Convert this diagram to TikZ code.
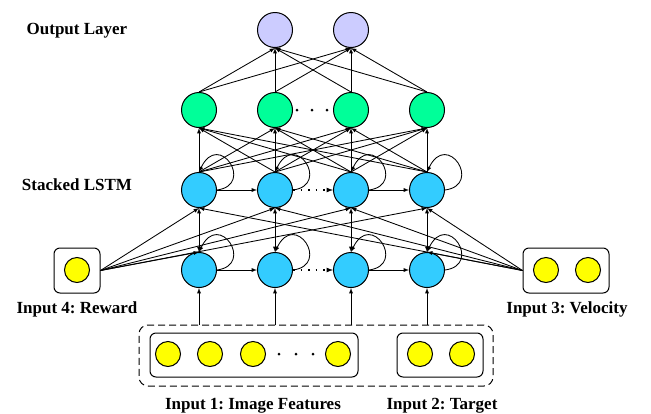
\documentclass[tikz,border=0pt]{standalone}
\usepackage{fontspec}
\setmainfont{Liberation Serif}
\usepackage{tikz}
\definecolor{outcol}{HTML}{CCCCFF}
\definecolor{densecol}{HTML}{00FF99}
\definecolor{lstmcol}{HTML}{33CCFF}
\definecolor{incol}{HTML}{FFFF00}
\frenchspacing

\begin{document}
\begin{tikzpicture}[x=1pt,y=-1pt,line width=0.85pt,
  neuron/.style={circle, draw, line width=1pt, minimum size=35pt, inner sep=0pt},
  inneuron/.style={circle, draw, line width=1pt, fill=incol, minimum size=25pt, inner sep=0pt},
  inbox/.style={draw, rounded corners=6pt, line width=1pt, inner sep=0pt},
  lbl/.style={font=\fontsize{17}{20}\selectfont\bfseries},
  dot/.style={circle, fill, inner sep=0pt, minimum size=3pt},
  skip/.style={-latex, dash pattern=on 1.5pt off 6pt, line width=1.2pt}]

\useasboundingbox (0,0) rectangle (651,413);

% Output layer
\node [neuron, fill=outcol] (out1) at (275,30) {};
\node [neuron, fill=outcol] (out2) at (351,30) {};
\node [lbl] at (77,31) {Output Layer};

% Dense layer
\node [neuron, fill=densecol] (g1) at (199,110) {};
\node [neuron, fill=densecol] (g2) at (275,110) {};
\node [neuron, fill=densecol] (g3) at (351,110) {};
\node [neuron, fill=densecol] (g4) at (427,110) {};
\node [dot] (gd1) at (297,110) {};
\node [dot] (gd2) at (312,110) {};
\node [dot] (gd3) at (327,110) {};

% Stacked LSTM
\node [neuron, fill=lstmcol] (b1) at (199,190) {};
\node [neuron, fill=lstmcol] (b2) at (275,190) {};
\node [neuron, fill=lstmcol] (b3) at (351,190) {};
\node [neuron, fill=lstmcol] (b4) at (427,190) {};
\node [neuron, fill=lstmcol] (a1) at (199,270) {};
\node [neuron, fill=lstmcol] (a2) at (275,270) {};
\node [neuron, fill=lstmcol] (a3) at (351,270) {};
\node [neuron, fill=lstmcol] (a4) at (427,270) {};
\node [lbl] at (77,185) {Stacked LSTM};

% Input 4
\node [inbox, minimum width=46pt, minimum height=45pt] (rbox) at (77,270.5) {};
\node [inneuron] (r1) at (77,270) {};
\node [lbl] at (77,309) {Input 4: Reward};

% Input 3
\node [inbox, minimum width=86pt, minimum height=45pt] (vbox) at (566,270.5) {};
\node [inneuron] (v1) at (546,270) {};
\node [inneuron] (v2) at (588,270) {};
\node [lbl] at (567,309) {Input 3: Velocity};

% Input 1 and 2
\node [draw, dash pattern=on 7pt off 4pt, rounded corners=9pt, line width=1pt,
  minimum width=354pt, minimum height=61pt] (inall) at (316,355.5) {};
\node [inbox, minimum width=208pt, minimum height=44pt] (ibox) at (254,355) {};
\node [inneuron] (i1) at (168,354) {};
\node [inneuron] (i2) at (210,354) {};
\node [inneuron] (i3) at (253,354) {};
\node [inneuron] (i4) at (338,354) {};
\node [dot] (id1) at (279,354) {};
\node [dot] (id2) at (296,354) {};
\node [dot] (id3) at (313,354) {};
\node [inbox, minimum width=86pt, minimum height=44pt] (tbox) at (440,355) {};
\node [inneuron] (t1) at (420,354) {};
\node [inneuron] (t2) at (462,354) {};
\node [lbl] at (253,406) {Input 1: Image Features};
\node [lbl] at (442,406) {Input 2: Target};

% Connections
\draw [-latex] (rbox.east) -- (a1.north);
\draw [-latex] (vbox.west) -- (a4.north);
\foreach \i in {1,...,4} {
  \draw [-latex] (inall.north -| a\i) -- (a\i.south);
  \draw [latex-latex] (a\i.north) -- (b\i.south);
  \draw [-latex] (rbox.east) -- (b\i.south);
  \draw [-latex] (vbox.west) -- (b\i.south);
  \draw [-latex] (a\i.east) .. controls +(38,-5) and +(20,-42) .. (a\i.north);
  \draw [-latex] (b\i.east) .. controls +(38,-5) and +(20,-42) .. (b\i.north);
  \foreach \j in {1,...,4}
    \draw [-latex] (b\i.north) -- (g\j.south);
  \draw [-latex] (g\i.north) -- (out1.south);
  \draw [-latex] (g\i.north) -- (out2.south);
}
\draw [-latex] (a1) -- (a2);
\draw [skip] (a2) -- (a3);
\draw [-latex] (a3) -- (a4);
\draw [-latex] (b1) -- (b2);
\draw [skip] (b2) -- (b3);
\draw [-latex] (b3) -- (b4);
\end{tikzpicture}
\end{document}
